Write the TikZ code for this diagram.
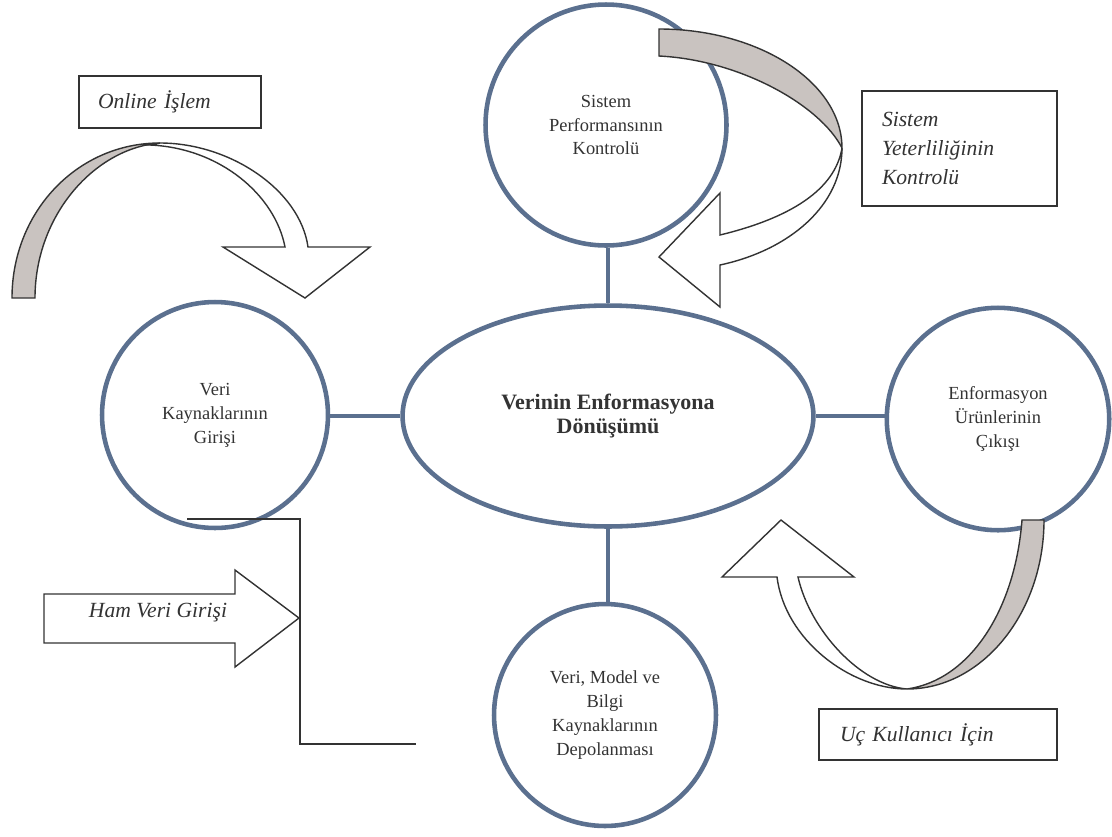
\documentclass[tikz,border=0pt]{standalone}
\usepackage{fontspec}
\setmainfont{Liberation Serif}
\usetikzlibrary{shapes.geometric}
\definecolor{ringblue}{RGB}{91,112,143}
\definecolor{backgray}{RGB}{201,195,192}
\definecolor{ink}{RGB}{51,51,51}
\tikzset{
ring/.style={circle,draw=ringblue,line width=2.6pt,inner sep=0pt,align=center,text=ink,font=\fontsize{10.5}{13.6}\selectfont},
oval/.style={ellipse,draw=ringblue,line width=2.6pt,inner sep=0pt,align=center,text=ink,font=\fontsize{12.5}{13.2}\selectfont\bfseries},
link/.style={draw=ringblue,line width=2.6pt},
lbl/.style={rectangle,draw=ink,line width=0.9pt,inner ysep=0pt,align=left,text=ink,font=\fontsize{12.3}{16.4}\selectfont\itshape},
band/.style={draw=ink,line width=0.8pt,line join=miter},
}
\begin{document}
\begin{tikzpicture}[x=0.02cm,y=-0.02cm]
\useasboundingbox (0,0) rectangle (1112,836);
\node[oval,minimum width=8.22cm,minimum height=4.42cm] (core) at (608,416) {Verinin Enformasyona\\Dönüşümü};
\node[ring,minimum size=4.82cm] (perf) at (606,125) {Sistem\\Performansının\\Kontrolü};
\node[ring,minimum size=4.52cm] (input) at (215,415) {Veri\\Kaynaklarının\\Girişi};
\node[ring,minimum size=4.45cm] (output) at (998,419) {Enformasyon\\Ürünlerinin\\Çıkışı};
\node[ring,minimum size=4.44cm] (store) at (605,715) {Veri, Model ve\\Bilgi\\Kaynaklarının\\Depolanması};
\draw[link] (core.north)--(core.north |- perf.south) (core.west)--(core.west -| input.east) (core.east)--(core.east -| output.west) (core.south)--(core.south |- store.north);
\node[lbl,minimum width=3.64cm,minimum height=1.04cm,inner xsep=0.38cm,text width=2.88cm] (online) at (170,102) {Online İşlem};
\node[lbl,minimum width=3.9cm,minimum height=2.3cm,inner xsep=0.4cm,text width=3.1cm] (adequacy) at (959.5,148.5) {Sistem\\Yeterliliğinin\\Kontrolü};
\node[lbl,minimum width=4.76cm,minimum height=1.02cm,inner xsep=0.42cm,text width=3.92cm] (enduser) at (938,734.5) {Uç Kullanıcı İçin};
\fill[white,band] (160,143) .. controls (230,143) and (300,190) .. (308,247) -- (370,247) -- (305,298) -- (223,247) -- (285,247) .. controls (275,195) and (220,148) .. (150,145) -- cycle;
\fill[backgray,band] (12,298) .. controls (12,212) and (77,143) .. (160,143) .. controls (95,148) and (35,215) .. (35,298) -- cycle;
\fill[white,band] (842,148) .. controls (842,205) and (790,250) .. (720,265) -- (720,307) -- (659,257) -- (720,193) -- (720,235) .. controls (790,218) and (835,190) .. (842,148) -- cycle;
\fill[backgray,band] (659,29) .. controls (760,29) and (842,83) .. (842,148) .. controls (820,105) and (740,60) .. (659,56) -- cycle;
\fill[white,band] (907,689) .. controls (850,689) and (785,640) .. (777,577) -- (722,577) -- (781,520) -- (854,577) -- (798,577) .. controls (810,630) and (860,685) .. (907,689) -- cycle;
\fill[backgray,band] (1022,520) -- (1044,520) .. controls (1044,613) and (982,689) .. (907,689) .. controls (970,680) and (1015,610) .. (1022,520) -- cycle;
\fill[white,band] (44,594) -- (235,594) -- (235,570) -- (299,618) -- (235,667) -- (235,643) -- (44,643) -- cycle;
\node[text=ink,font=\fontsize{12.3}{16.4}\selectfont\itshape] (raw) at (158,613) {Ham Veri Girişi};
\coordinate (b1) at (187,519);
\coordinate (b2) at (300,519);
\coordinate (b3) at (300,744);
\coordinate (b4) at (416,744);
\draw[ink,line width=1pt] (b1)--(b2)--(b3)--(b4);
\end{tikzpicture}
\end{document}
